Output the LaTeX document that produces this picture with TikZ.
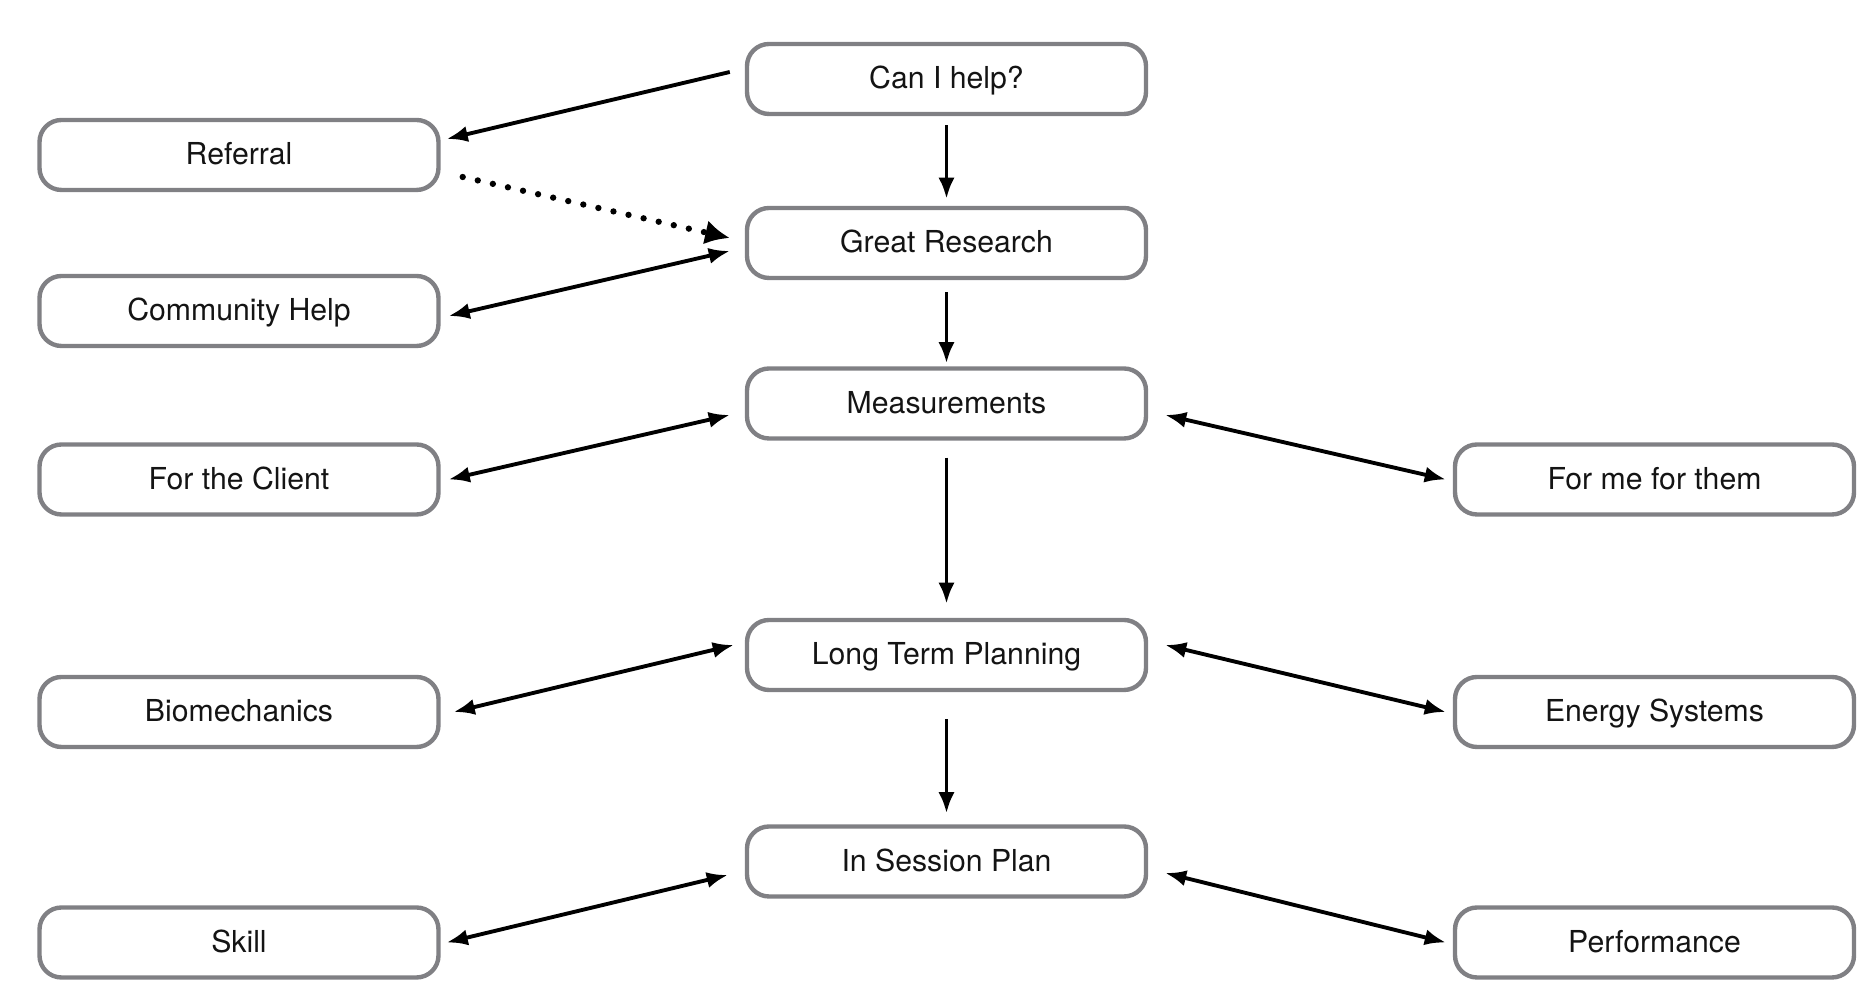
\documentclass[tikz,border=0pt]{standalone}
\usepackage{fontspec}
\setmainfont{TeX Gyre Heros}
\usepackage{tikz}
\usetikzlibrary{arrows.meta, positioning, calc}
\definecolor{boxgray}{RGB}{128,128,132}
\definecolor{mydark}{RGB}{20,20,20}
\tikzset{
  stagebox/.style={rectangle, draw=boxgray, fill=white,
    minimum width=3.99cm, minimum height=0.70cm,
    font=\fontsize{8.6}{10}\selectfont, text=mydark,
    text height=1.75ex, text depth=0.7ex,
    rounded corners=0.22cm, line width=1.25pt},
  arrow/.style={-{Latex[length=6pt,width=4.6pt]}, line width=1.1pt, color=black},
  twoway/.style={{Latex[length=6pt,width=4.6pt]}-{Latex[length=6pt,width=4.6pt]}, line width=1.1pt, color=black},
  dotarrow/.style={-{Latex[length=7pt,width=7pt]}, line width=1.8pt, line cap=round,
    dash pattern=on 0pt off 4.4pt, color=black}
}
\begin{document}
\begin{tikzpicture}
  \useasboundingbox (0,0) rectangle (18.76,10.08);

  % Main column
  \node[stagebox] (canhelp) at (9.465,9.29) {Can I help?};
  \node[stagebox] (research) at (9.465,7.65) {Great Research};
  \node[stagebox] (measure) at (9.465,6.045) {Measurements};
  \node[stagebox] (longterm) at (9.465,3.53) {Long Term Planning};
  \node[stagebox] (session) at (9.465,1.465) {In Session Plan};

  % Left column
  \node[stagebox] (referral) at (2.39,8.53) {Referral};
  \node[stagebox] (community) at (2.39,6.97) {Community Help};
  \node[stagebox] (client) at (2.39,5.285) {For the Client};
  \node[stagebox] (biomech) at (2.39,2.96) {Biomechanics};
  \node[stagebox] (skill) at (2.39,0.655) {Skill};

  % Right column
  \node[stagebox] (forme) at (16.545,5.285) {For me for them};
  \node[stagebox] (energy) at (16.545,2.96) {Energy Systems};
  \node[stagebox] (perform) at (16.545,0.655) {Performance};

  % Down the main column
  \draw[arrow] ([yshift=-0.09cm]canhelp.south) -- ([yshift=0.07cm]research.north);
  \draw[arrow] ([yshift=-0.12cm]research.south) -- ([yshift=0.03cm]measure.north);
  \draw[arrow] ([yshift=-0.17cm]measure.south) -- ([yshift=0.14cm]longterm.north);
  \draw[arrow] ([yshift=-0.27cm]longterm.south) -- ([yshift=0.11cm]session.north);

  % Left side links
  \draw[arrow] ([xshift=-0.15cm,yshift=0.07cm]canhelp.west) -- ([xshift=0.06cm,yshift=0.16cm]referral.east);
  \draw[dotarrow] ([xshift=0.22cm,yshift=-0.22cm]referral.east) -- ([xshift=-0.15cm,yshift=0.05cm]research.west);
  \draw[twoway] ([xshift=0.08cm,yshift=-0.05cm]community.east) -- ([xshift=-0.15cm,yshift=-0.08cm]research.west);
  \draw[twoway] ([xshift=0.08cm]client.east) -- ([xshift=-0.15cm,yshift=-0.115cm]measure.west);
  \draw[twoway] ([xshift=0.13cm]biomech.east) -- ([xshift=-0.11cm,yshift=0.10cm]longterm.west);
  \draw[twoway] ([xshift=0.06cm]skill.east) -- ([xshift=-0.17cm,yshift=-0.135cm]session.west);

  % Right side links
  \draw[twoway] ([xshift=0.17cm,yshift=-0.115cm]measure.east) -- ([xshift=-0.07cm]forme.west);
  \draw[twoway] ([xshift=0.17cm,yshift=0.10cm]longterm.east) -- ([xshift=-0.07cm]energy.west);
  \draw[twoway] ([xshift=0.17cm,yshift=-0.115cm]session.east) -- ([xshift=-0.07cm]perform.west);
\end{tikzpicture}
\end{document}
